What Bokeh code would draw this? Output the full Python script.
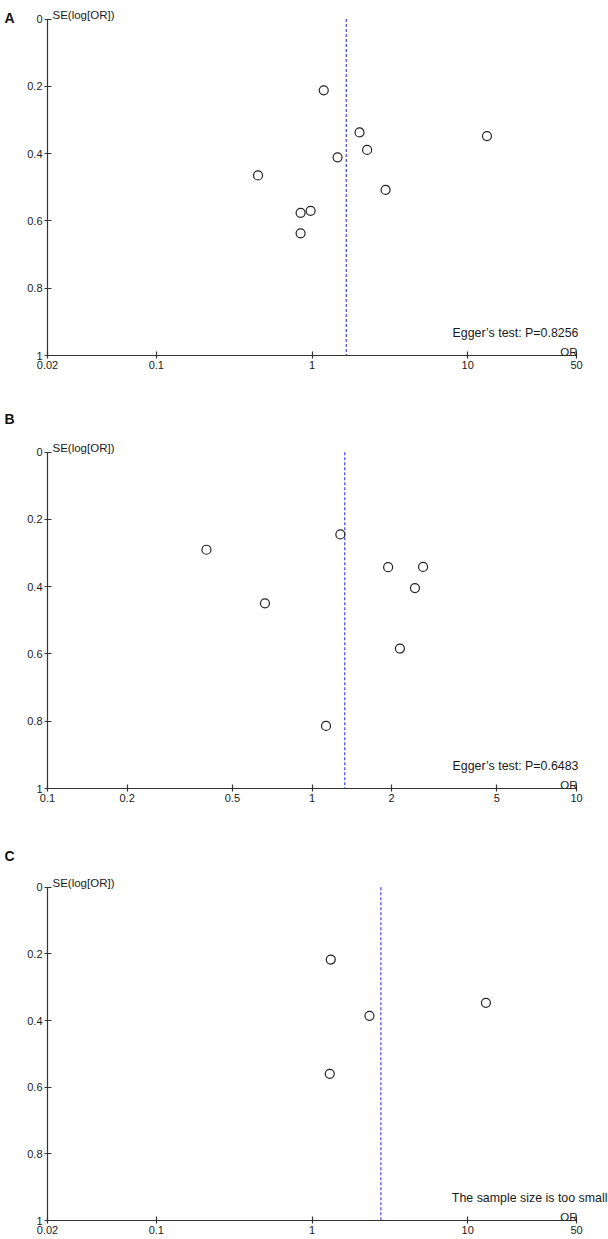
import math
from bokeh.plotting import figure
from bokeh.layouts import column
from bokeh.models import (Range1d, FixedTicker, CustomJSTickFormatter, Label,
                          ColumnDataSource)
from bokeh.embed import file_html
from bokeh.resources import INLINE

# ---------------- data ----------------
y_ticks = [0, 0.2, 0.4, 0.6, 0.8, 1]
y_labels = ["0", "0.2", "0.4", "0.6", "0.8", "1"]

# Panel A
a_or = [1.19, 2.02, 2.26, 1.46, 13.3, 0.45, 2.97, 0.98, 0.845, 0.845]
a_se = [0.212, 0.337, 0.389, 0.411, 0.348, 0.465, 0.508, 0.570, 0.576, 0.637]
a_pooled = 1.66
a_xticks = [0.02, 0.1, 1, 10, 50]
a_xlabels = ["0.02", "0.1", "1", "10", "50"]
a_note = "Egger\u2019s test: P=0.8256"

# Panel B
b_or = [0.399, 1.28, 1.94, 2.63, 2.45, 0.664, 2.15, 1.13]
b_se = [0.290, 0.2445, 0.342, 0.341, 0.404, 0.4495, 0.584, 0.814]
b_pooled = 1.33
b_xticks = [0.1, 0.2, 0.5, 1, 2, 5, 10]
b_xlabels = ["0.1", "0.2", "0.5", "1", "2", "5", "10"]
b_note = "Egger\u2019s test: P=0.6483"

# Panel C
c_or = [1.32, 2.34, 13.1, 1.30]
c_se = [0.217, 0.386, 0.347, 0.560]
c_pooled = 2.77
c_xticks = [0.02, 0.1, 1, 10, 50]
c_xlabels = ["0.02", "0.1", "1", "10", "50"]
c_note = "The sample size is too small"

y_title = "SE(log[OR])"
x_title = "OR"

FONT = "Liberation Sans"
TXT = "#1a1a1a"
AX = "#333333"
FMT_CODE = """
const i = vals.findIndex(v => Math.abs(v - tick) <= 1e-9 * Math.max(1, Math.abs(v)));
return i >= 0 ? labs[i] : "";
"""

W = 608          # canvas width
LEFT = 47        # frame left (y axis position)
AXIS_W = 529     # pixel length of the x axis (first to last tick)


def make_panel(letter, xs, ys, pooled, xticks, xlabels, note, height,
               bottom, top_pad, letter_dy, note_dx):
    frame_w = W - LEFT
    frame_h = height - bottom
    # extend the ranges so texts at top/right sit inside the frame;
    # axes are bounded to the real data extent
    lo, hi = math.log10(xticks[0]), math.log10(xticks[-1])
    x_end = 10 ** (lo + (hi - lo) * frame_w / AXIS_W)
    y_top = -top_pad / (frame_h - top_pad)

    p = figure(width=W, height=height, x_axis_type="log",
               x_range=Range1d(xticks[0], x_end),
               y_range=Range1d(1, y_top),
               min_border_left=LEFT, min_border_right=0,
               min_border_top=0, min_border_bottom=bottom,
               toolbar_location=None, output_backend="svg")
    p.xgrid.visible = False
    p.ygrid.visible = False
    p.outline_line_color = None
    p.background_fill_color = "white"
    p.border_fill_color = "white"

    xa = p.xaxis[0]
    ya = p.yaxis[0]
    xa.ticker = FixedTicker(ticks=xticks, minor_ticks=[])
    ya.ticker = FixedTicker(ticks=y_ticks, minor_ticks=[])
    xa.bounds = (xticks[0], xticks[-1])
    ya.bounds = (y_ticks[0], y_ticks[-1])
    xa.formatter = CustomJSTickFormatter(args=dict(vals=xticks, labs=xlabels), code=FMT_CODE)
    ya.formatter = CustomJSTickFormatter(args=dict(vals=y_ticks, labs=y_labels), code=FMT_CODE)
    for ax in (xa, ya):
        ax.axis_line_color = AX
        ax.axis_line_width = 1.2
        ax.major_tick_line_color = AX
        ax.major_tick_line_width = 1.2
        ax.major_tick_in = 4
        ax.major_tick_out = 3
        ax.minor_tick_line_color = None
        ax.major_label_text_font = FONT
        ax.major_label_text_font_size = "11px"
        ax.major_label_text_color = TXT
    xa.major_label_standoff = 2
    ya.major_label_standoff = 2

    # pooled estimate (vertical dashed line from SE=0 to SE=1)
    p.segment(x0=[pooled], y0=[y_ticks[0]], x1=[pooled], y1=[y_ticks[-1]],
              line_color="#4040e6", line_width=1.2, line_dash="3 2")

    src = ColumnDataSource(dict(orv=xs, se=ys))
    p.scatter(x="orv", y="se", source=src, marker="circle", size=9,
              fill_color=None, line_color="#222222", line_width=1.2)

    p.add_layout(Label(x=xticks[0], y=0, text=y_title, x_offset=5, y_offset=4,
                       text_baseline="alphabetic", text_align="left",
                       text_font=FONT, text_font_size="11.5px", text_color=TXT))
    p.add_layout(Label(x=xticks[-1], y=1, text=x_title, x_offset=1, y_offset=4,
                       text_baseline="alphabetic", text_align="right",
                       text_font=FONT, text_font_size="11.5px", text_color=TXT))
    p.add_layout(Label(x=xticks[-1], y=1, text=note, x_offset=note_dx, y_offset=23,
                       text_baseline="alphabetic", text_align="right",
                       text_font=FONT, text_font_size="12.4px", text_color=TXT))
    p.add_layout(Label(x=xticks[0], y=0, text=letter, x_offset=-43, y_offset=letter_dy,
                       text_baseline="middle", text_align="left",
                       text_font=FONT, text_font_size="14px", text_font_style="bold",
                       text_color="#111111"), "left")
    return p


pA = make_panel("A", a_or, a_se, a_pooled, a_xticks, a_xlabels, a_note,
                height=401, bottom=46, top_pad=18.5, letter_dy=1, note_dx=2)
pB = make_panel("B", b_or, b_se, b_pooled, b_xticks, b_xlabels, b_note,
                height=435, bottom=48, top_pad=50.7, letter_dy=33, note_dx=2)
pC = make_panel("C", c_or, c_se, c_pooled, c_xticks, c_xlabels, c_note,
                height=403, bottom=19, top_pad=50.7, letter_dy=31, note_dx=31)

layout = column(pA, pB, pC, spacing=0)
open("out.html", "w").write(file_html(layout, INLINE))
